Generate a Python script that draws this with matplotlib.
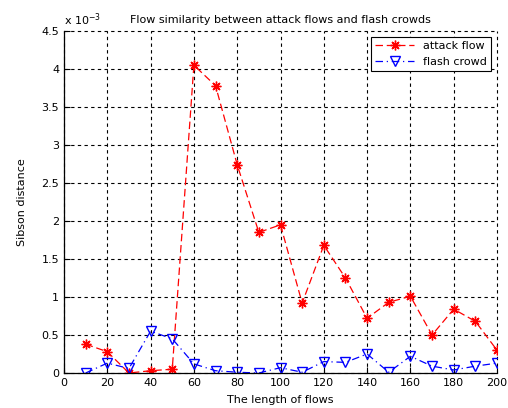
import numpy as np
import matplotlib
matplotlib.use("Agg")
import matplotlib.pyplot as plt

lengths = [10, 20, 30, 40, 50, 60, 70, 80, 90, 100,
           110, 120, 130, 140, 150, 160, 170, 180, 190, 200]
attack_flow = [0.38, 0.28, 0.00, 0.03, 0.05, 4.05, 3.78, 2.74, 1.85, 1.95,
               0.92, 1.68, 1.25, 0.72, 0.93, 1.01, 0.50, 0.84, 0.68, 0.30]
flash_crowd = [0.00, 0.13, 0.06, 0.55, 0.45, 0.12, 0.03, 0.01, 0.00, 0.07,
               0.01, 0.15, 0.14, 0.25, 0.01, 0.22, 0.09, 0.04, 0.09, 0.13]

plt.rcParams['font.family'] = ['DejaVu Sans']
plt.rcParams['font.size'] = 8

fig = plt.figure(figsize=(5.08, 4.08), dpi=100)
ax = fig.add_axes([64 / 508, 35 / 408, 433 / 508, 342 / 408])

ax.plot(lengths, np.array(attack_flow) * 1e-3, color="red", ls=(0, (6, 3)),
        lw=0.9, marker=(8, 2, 0), ms=7, mew=1.0, label="attack flow")
ax.plot(lengths, np.array(flash_crowd) * 1e-3, color="blue", ls=(0, (6, 3, 1, 3)),
        lw=0.9, marker="v", ms=7, mfc="none", label="flash crowd")

ax.set_xlim(0, 200)
ax.set_ylim(0, 4.5e-3)
ax.set_xticks(np.arange(0, 201, 20))
yt = np.arange(0, 4.51, 0.5)
ax.set_yticks(yt * 1e-3)
ax.set_yticklabels(["%g" % v for v in yt])
ax.text(0, 1.01, r"x 10$^{-3}$", transform=ax.transAxes, fontsize=8, va="bottom")

ax.grid(True, color="black", ls=(0, (3, 3)), lw=0.8)
for gl in ax.get_xgridlines() + ax.get_ygridlines():
    gl.set_clip_on(False)
ax.tick_params(direction="in", length=4, labelsize=8)
ax.spines["top"].set_visible(False)
ax.spines["right"].set_visible(False)
for s in ax.spines.values():
    s.set_linewidth(0.9)

ax.set_xlabel("The length of flows", labelpad=5)
ax.set_ylabel("Sibson distance", labelpad=10)
ax.set_title("Flow similarity between attack flows and flash crowds", fontsize=8, pad=6)

leg = ax.legend(loc="upper right", fancybox=False, edgecolor="black", fontsize=8,
                handlelength=3.5, framealpha=1)
leg.get_frame().set_linewidth(0.8)

fig.savefig("out.png")
